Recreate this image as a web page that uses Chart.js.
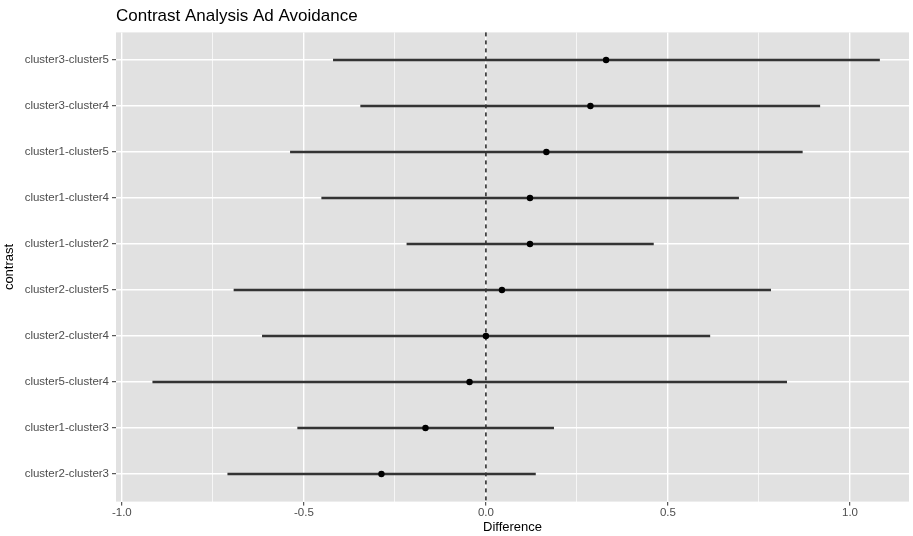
<!DOCTYPE html>
<html>
<head>
<meta charset="utf-8">
<script src="https://cdn.jsdelivr.net/npm/chart.js@4.4.1/dist/chart.umd.min.js"></script>
<style>
  html, body { margin: 0; padding: 0; background: #fff; }
  #wrap { width: 913px; height: 536px; }
</style>
</head>
<body>
<div id="wrap"><canvas id="chart" width="913" height="536"></canvas></div>
<script>
// contrasts, top row first
const contrasts = [
  'cluster3-cluster5', 'cluster3-cluster4', 'cluster1-cluster5', 'cluster1-cluster4', 'cluster1-cluster2',
  'cluster2-cluster5', 'cluster2-cluster4', 'cluster5-cluster4', 'cluster1-cluster3', 'cluster2-cluster3'
];
const estimate = [0.330, 0.287, 0.166, 0.121, 0.121, 0.044, 0.000, -0.045, -0.166, -0.287];
const lower    = [-0.419, -0.344, -0.537, -0.451, -0.217, -0.692, -0.614, -0.915, -0.517, -0.709];
const upper    = [1.081, 0.917, 0.869, 0.694, 0.460, 0.782, 0.615, 0.826, 0.186, 0.136];
const xTicks   = [-1, -0.75, -0.5, -0.25, 0, 0.25, 0.5, 0.75, 1];

const FONT = "'Liberation Sans', Arial, Helvetica, sans-serif";
const isMajor = v => Math.abs(v * 2 - Math.round(v * 2)) < 1e-6;

// grey panel + dashed zero reference line
const panelPlugin = {
  id: 'panel',
  beforeDraw(chart) {
    const { ctx, chartArea: { left, top, width, height } } = chart;
    ctx.save();
    ctx.fillStyle = '#e1e1e1';
    ctx.fillRect(left, top, width, height);
    ctx.restore();
  },
  beforeDatasetsDraw(chart) {
    const { ctx, chartArea: { top, bottom }, scales: { x } } = chart;
    const px = x.getPixelForValue(0);
    ctx.save();
    ctx.strokeStyle = '#000';
    ctx.lineWidth = 1.3;
    ctx.setLineDash([4, 4]);
    ctx.beginPath();
    ctx.moveTo(px, top);
    ctx.lineTo(px, bottom);
    ctx.stroke();
    ctx.restore();
  },
};

new Chart(document.getElementById('chart'), {
  type: 'scatter',
  plugins: [panelPlugin],
  data: {
    datasets: [
      {
        type: 'scatter',
        label: 'estimate',
        data: estimate.map((v, i) => ({ x: v, y: i })),
        backgroundColor: '#000',
        borderColor: '#000',
        pointRadius: 3.2,
        borderWidth: 0,
        order: 0,
      },
      {
        type: 'bar',
        label: 'interval',
        indexAxis: 'y',
        data: lower.map((lo, i) => ({ x: [lo, upper[i]], y: i })),
        backgroundColor: '#333',
        borderWidth: 0,
        barThickness: 2,
        order: 1,
      },
    ],
  },
  options: {
    responsive: false,
    animation: false,
    layout: { padding: { left: 0, right: 2, top: 0, bottom: 0 } },
    plugins: {
      legend: { display: false },
      tooltip: { enabled: false },
      title: {
        display: true,
        text: 'Contrast Analysis Ad Avoidance',
        align: 'start',
        fullSize: false,
        color: '#000',
        font: { family: FONT, size: 17, weight: 'normal' },
        padding: { top: 6.4, bottom: 5.6 },
      },
    },
    scales: {
      x: {
        type: 'linear',
        axis: 'x',
        position: 'bottom',
        min: -1.016,
        max: 1.162,
        offset: false,
        afterBuildTicks: axis => { axis.ticks = xTicks.map(v => ({ value: v })); },
        afterFit: scale => { scale.height = 34.4; },
        border: { display: false },
        grid: {
          offset: false,
          color: '#ffffff',
          lineWidth: ctx => (ctx.tick && isMajor(ctx.tick.value) ? 1.4 : 0.7),
          tickColor: ctx => (ctx.tick && isMajor(ctx.tick.value) ? '#333333' : 'rgba(0,0,0,0)'),
          tickLength: 4,
          tickWidth: 1,
        },
        ticks: {
          autoSkip: false,
          maxRotation: 0,
          padding: 0,
          color: '#4d4d4d',
          font: { family: FONT, size: 11.5 },
          callback: v => (isMajor(v) ? v.toFixed(1) : ''),
        },
        title: {
          display: true,
          text: 'Difference',
          color: '#000',
          font: { family: FONT, size: 13 },
          padding: { top: 0, bottom: 1.2 },
        },
      },
      y: {
        type: 'linear',
        axis: 'y',
        position: 'left',
        reverse: true,
        min: -0.6,
        max: 9.6,
        offset: false,
        afterBuildTicks: axis => { axis.ticks = contrasts.map((_, i) => ({ value: i })); },
        afterFit: scale => { scale.width = 116; },
        border: { display: false },
        grid: {
          offset: false,
          color: '#ffffff',
          lineWidth: 1.4,
          tickColor: '#333333',
          tickLength: 4,
          tickWidth: 1,
        },
        ticks: {
          autoSkip: false,
          padding: 3,
          color: '#4d4d4d',
          font: { family: FONT, size: 11.5 },
          callback: v => contrasts[v],
        },
        title: {
          display: true,
          text: 'contrast',
          color: '#000',
          font: { family: FONT, size: 13 },
          padding: { top: 1.5, bottom: 0 },
        },
      },
    },
  },
});
</script>
</body>
</html>
